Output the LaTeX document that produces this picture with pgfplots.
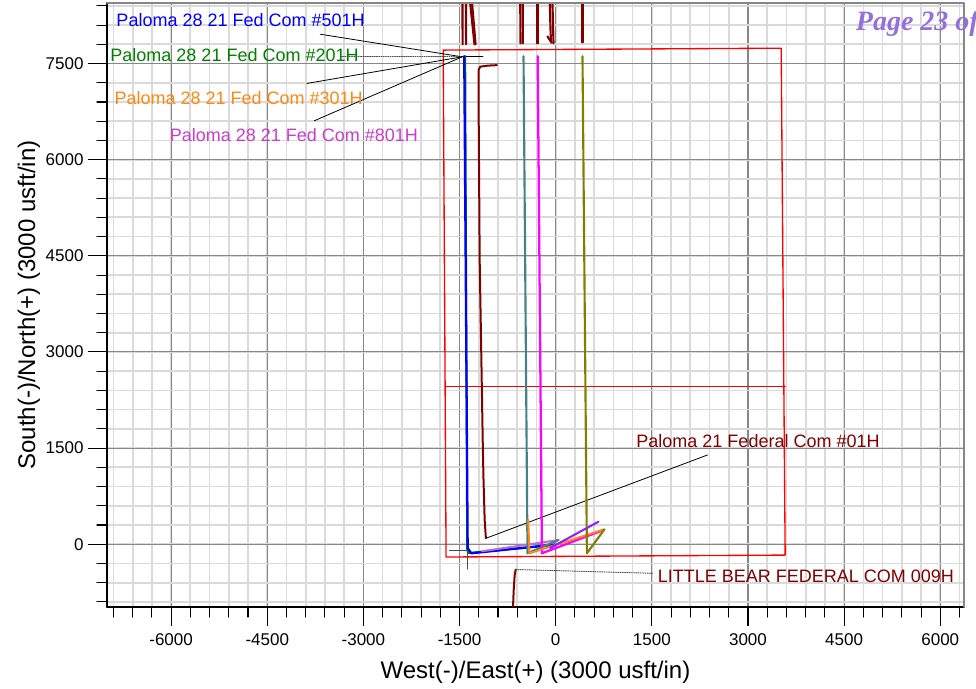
\documentclass[border=0pt]{standalone}
\usepackage{fontspec}
\setmainfont{Liberation Sans}
\newfontfamily\pagefont{Liberation Serif}
\usepackage{pgfplots}
\pgfplotsset{compat=1.18}
\definecolor{wblue}{RGB}{0,0,255}
\definecolor{wgreen}{RGB}{0,128,0}
\definecolor{worange}{RGB}{255,136,17}
\definecolor{wpink}{RGB}{204,60,204}
\definecolor{maroon}{RGB}{128,0,0}
\definecolor{wteal}{RGB}{70,130,130}
\definecolor{wmag}{RGB}{255,0,255}
\definecolor{wolive}{RGB}{128,128,0}
\definecolor{wviolet}{RGB}{140,30,255}
\definecolor{worchid}{RGB}{190,110,210}
\definecolor{pagepurple}{RGB}{147,112,219}
\definecolor{lightgrid}{RGB}{218,218,218}
\definecolor{darkgrid}{RGB}{135,135,135}

\begin{document}
\begin{tikzpicture}
\begin{axis}[
  at={(0,0)}, anchor=south west,
  scale only axis, width=642.75pt, height=453pt,
  xmin=-7000, xmax=6370, ymin=-980, ymax=8445,
  axis x line*=bottom, axis y line*=left,
  axis line style={line width=1.4pt, black},
  tick align=outside,
  tick style={black, line width=0.8pt},
  major tick length=13.9pt, minor tick length=7.5pt,
  xtick={-6000,-4500,...,6000},
  ytick={0,1500,...,7500},
  xticklabels={-6000,-4500,-3000,-1500,0,1500,3000,4500,6000},
  yticklabels={0,1500,3000,4500,6000,7500},
  minor xtick={-6900,-6600,...,6300},
  minor ytick={-900,-600,...,8400},
  grid=both,
  minor grid style={draw=lightgrid, line width=1.3pt},
  major grid style={draw=darkgrid, line width=0.8pt},
  ticklabel style={font=\fontsize{12.75}{15}\selectfont},
  xticklabel style={anchor=north, inner sep=0pt, yshift=-6pt},
  yticklabel style={anchor=east, inner sep=0pt, xshift=-3.5pt},
  every axis x label/.style={at={(axis description cs:0.5,0)}, yshift=-48.75pt, anchor=center},
  every axis y label/.style={at={(axis description cs:0,0.5)}, xshift=-58.5pt, anchor=center, rotate=90},
  label style={font=\fontsize{18}{21}\selectfont},
  xlabel={West(-)/East(+) (3000 usft/in)},
  ylabel={South(-)/North(+) (3000 usft/in)},
  clip mode=individual,
  line join=round, line cap=round,
]
% lease outline
\addplot[red, line width=1pt] coordinates {(-1755,7710) (3518,7740) (3580,-170) (-1710,-200) (-1755,7710)};
\addplot[red, line width=1pt] coordinates {(-1724,2460) (3580,2460)};

% offset wells leaving the top of the plot
\addplot[maroon, line width=1.6pt] coordinates {(-1455,8600) (-1452,7800)};
\addplot[maroon, line width=1.6pt] coordinates {(-1400,8600) (-1398,7800)};
\addplot[maroon, line width=1.6pt] coordinates {(-1350,8600) (-1267,7800)};
\addplot[maroon, line width=1.6pt] coordinates {(-1318,8600) (-1250,7800)};
\addplot[maroon, line width=1.6pt] coordinates {(-554,8600) (-549,7814)};
\addplot[maroon, line width=1.6pt] coordinates {(-515,8600) (-512,7814)};
\addplot[maroon, line width=1.6pt] coordinates {(-284,8600) (-284,7814)};
\addplot[maroon, line width=1.6pt] coordinates {(-97,8600) (-78,7944) (-70,7839)};
\addplot[maroon, line width=1.6pt] coordinates {(-128,7923) (-62,7823)};
\addplot[maroon, line width=1.6pt] coordinates {(-55,8600) (-34,7814)};
\addplot[maroon, line width=1.6pt] coordinates {(418,8600) (418,7830)};

% Paloma 21 Federal Com #01H
\addplot[maroon, line width=1.5pt] coordinates {(-917,7475) (-1053,7468) (-1178,7452) (-1204,7397) (-1201,6617) (-1186,4434) (-1162,3030) (-1136,1470) (-1126,1001) (-1108,377) (-1089,92)};
% Little Bear Federal Com 009H
\addplot[maroon, line width=1.5pt] coordinates {(-624,-395) (-640,-481) (-655,-715) (-674,-1184)};

% leader lines
\addplot[black, line width=0.6pt] coordinates {(-3674,7958) (-1459,7605)};
\addplot[black!70, line width=0.7pt, densely dotted] coordinates {(-3362,7605) (-1459,7605)};
\addplot[black, line width=0.6pt] coordinates {(-3881,7190) (-1459,7605)};
\addplot[black, line width=0.6pt] coordinates {(-3767,6607) (-1459,7605)};
\addplot[black, line width=0.8pt] coordinates {(-1459,7605) (-1136,7605)};
\addplot[black!70, line width=0.8pt] coordinates {(-1657,-101) (-1370,-101)};
\addplot[black!70, line width=0.8pt] coordinates {(-1370,-12) (-1370,-387)};
\addplot[black, line width=0.6pt] coordinates {(-1089,92) (2368,1392)};
\addplot[black!70, line width=0.7pt, densely dotted] coordinates {(-624,-395) (1510,-454)};

% planned wells
\addplot[wgreen, line width=1.5pt] coordinates {(-1412,7616) (-1381,-75) (-1365,-137) (-8,-12)};
\addplot[wblue, line width=1.7pt] coordinates {(-1427,7616) (-1373,-59) (-1318,-142) (-8,-5)};
\addplot[worchid, line width=1.5pt] coordinates {(-1150,-110) (45,65)};
\addplot[wteal, line width=1.6pt] coordinates {(-502,7616) (-440,-142) (44,66)};
\addplot[wmag, line width=1.7pt] coordinates {(-281,7616) (-215,-142) (749,222)};
\addplot[worange, line width=1.5pt] coordinates {(-429,378) (-409,-142) (749,229)};
\addplot[wolive, line width=1.6pt] coordinates {(418,7616) (487,-142) (761,232)};
\addplot[wviolet, line width=1.5pt] coordinates {(-86,-59) (668,351)};

% frame
\draw[darkgrid, line width=0.9pt] (rel axis cs:0,1) -- (rel axis cs:1,1) -- (rel axis cs:1,0);

% labels
\begin{scope}[every node/.style={anchor=base west, inner sep=0pt, font=\fontsize{13.5}{16}\selectfont}]
\node[text=wblue] at (axis cs:-6856,8084) {Paloma 28 21 Fed Com \#501H};
\node[text=wgreen] at (axis cs:-6950,7538) {Paloma 28 21 Fed Com \#201H};
\node[text=worange] at (axis cs:-6887,6862) {Paloma 28 21 Fed Com \#301H};
\node[text=wpink] at (axis cs:-6025,6279) {Paloma 28 21 Fed Com \#801H};
\node[text=maroon] at (axis cs:1256,1505) {Paloma 21 Federal Com \#01H};
\node[text=maroon] at (axis cs:1588,-594) {LITTLE BEAR FEDERAL COM 009H};
\end{scope}
\node[anchor=base west, inner sep=0pt, text=pagepurple, font=\pagefont\bfseries\itshape\fontsize{21}{24}\selectfont] at (axis cs:4680,8010) {Page 23 of};
\end{axis}
\pgfresetboundingbox
\useasboundingbox (-80.25pt,-61.5pt) rectangle (651.75pt,455.25pt);
\end{tikzpicture}
\end{document}
